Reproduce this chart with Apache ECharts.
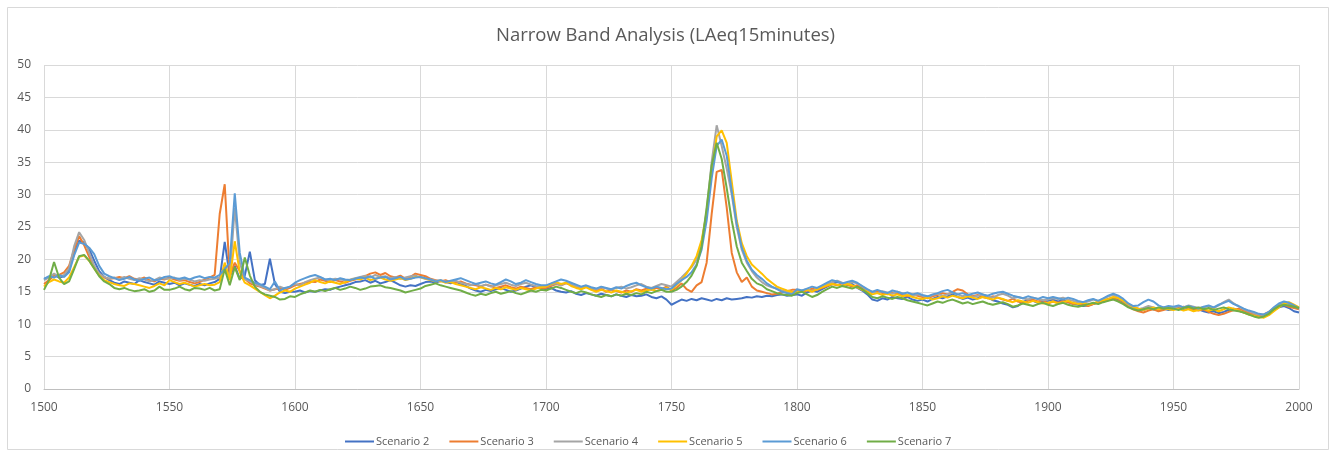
<!DOCTYPE html>
<html>
<head>
<meta charset="utf-8">
<script src="https://cdn.jsdelivr.net/npm/echarts@6/dist/echarts.min.js"></script>
<style>
  html, body { margin: 0; padding: 0; background: #ffffff; }
  #chart { width: 1331px; height: 455px; }
</style>
</head>
<body>
<div id="chart"></div>
<script>
// x runs 1500 -> 2000 in steps of 2 (251 points per series)
var xStart = 1500, xStep = 2;
var seriesNames = ["Scenario 2", "Scenario 3", "Scenario 4", "Scenario 5", "Scenario 6", "Scenario 7"];
var colors = ["#4472C4", "#ED7D31", "#A5A5A5", "#FFC000", "#5B9BD5", "#70AD47"];

var scenario2 = [
  17.0,17.3,17.6,17.2,17.4,18.3,21.0,22.9,22.6,21.6,19.8,18.2,17.3,16.8,16.4,16.2,16.6,16.4,16.2,16.8,16.5,16.3,16.1,16.6,16.4,
  16.2,16.4,16.0,16.3,16.1,15.9,16.2,16.0,16.3,16.5,17.0,22.7,17.4,19.0,17.0,17.5,21.2,16.8,16.0,16.2,20.1,16.2,15.0,14.8,15.0,
  15.0,15.2,14.9,15.1,15.0,15.2,15.4,15.3,15.6,15.8,16.0,16.2,16.5,16.6,16.8,16.4,16.7,16.3,16.5,16.8,16.4,16.0,15.8,16.0,15.9,
  16.2,16.5,16.6,16.4,16.7,16.5,16.3,16.6,16.2,15.9,15.5,15.2,15.0,15.3,15.1,15.4,15.6,15.3,15.0,15.2,15.5,15.8,16.0,15.7,15.6,
  15.4,15.6,15.2,15.0,14.9,15.1,14.7,14.5,14.8,14.6,14.4,14.7,14.5,14.3,14.6,14.4,14.2,14.5,14.3,14.4,14.6,14.2,14.0,14.3,13.8,
  13.0,13.4,13.8,13.6,13.9,13.7,14.0,13.8,13.6,13.9,13.7,14.0,13.8,13.9,14.0,14.2,14.1,14.3,14.2,14.4,14.3,14.5,14.6,14.4,14.5,
  14.6,14.4,14.9,15.2,15.0,15.4,15.8,16.2,16.5,16.3,16.0,16.2,15.6,15.2,14.6,13.8,13.6,14.0,13.8,14.2,14.0,13.9,14.2,13.8,13.6,
  13.8,13.5,13.9,14.2,14.0,14.3,14.6,14.2,13.9,14.1,13.8,14.0,14.3,14.1,13.7,13.5,13.2,13.0,12.6,12.8,13.4,13.8,13.6,13.3,13.5,
  13.6,13.8,13.5,13.7,13.4,13.2,13.0,12.8,12.9,13.1,13.4,13.6,13.9,14.1,13.8,13.4,12.9,12.6,12.4,12.2,12.5,12.3,12.1,12.4,12.2,
  12.3,12.5,12.2,12.4,12.1,12.3,12.0,11.8,12.0,11.7,11.9,12.2,12.4,12.1,11.8,11.6,11.4,11.3,11.2,11.6,12.2,12.6,12.8,12.5,12.0,
  11.8
];
var scenario3 = [
  16.2,16.8,17.5,17.6,18.0,19.0,21.5,23.6,22.2,20.4,18.8,17.6,17.2,17.0,17.1,17.3,17.1,17.4,17.0,16.9,17.2,16.8,16.6,17.0,16.9,
  17.2,16.9,16.7,16.8,16.5,16.3,16.5,16.9,17.2,17.6,27.0,31.6,17.5,19.5,18.2,17.0,16.3,16.0,15.8,15.5,15.2,15.4,15.6,15.3,15.6,
  16.0,16.2,16.4,16.6,16.5,16.9,16.7,16.5,16.8,16.6,16.4,16.7,16.9,17.2,17.4,17.8,18.0,17.6,17.9,17.4,17.2,17.5,17.0,17.3,17.8,
  17.6,17.4,17.0,16.8,16.6,16.8,16.5,16.4,16.6,16.3,16.1,16.0,15.8,16.1,15.9,15.6,15.8,16.0,15.7,15.5,15.8,15.6,15.4,15.7,15.5,
  15.6,15.9,16.2,16.0,16.3,16.1,15.7,15.5,15.8,15.4,15.2,15.5,15.0,15.3,15.1,14.9,15.2,15.0,15.4,15.2,15.5,15.3,15.6,15.4,15.8,
  15.2,15.6,16.3,15.4,15.0,16.0,16.5,19.5,27.0,33.5,33.8,28.0,21.0,18.0,16.5,17.2,15.8,15.2,15.0,14.8,14.6,14.7,14.9,15.1,15.3,
  15.3,15.0,15.2,15.5,15.3,15.6,15.9,16.2,16.0,16.3,16.1,15.8,16.0,15.6,15.2,14.9,15.1,14.8,14.6,14.9,14.7,14.5,14.3,14.6,14.4,
  14.2,14.0,14.3,14.5,14.8,14.6,15.0,15.4,15.2,14.6,14.3,14.5,14.2,14.0,14.3,14.1,13.8,13.6,13.9,13.5,13.3,13.6,13.8,13.5,13.7,
  13.2,13.5,13.3,13.6,13.4,13.1,13.3,13.0,12.8,13.1,13.3,13.5,13.7,13.9,13.6,13.2,12.8,12.3,12.0,11.8,12.1,12.3,12.0,12.2,12.4,
  12.6,12.4,12.7,12.5,12.3,12.1,12.3,11.9,11.6,11.4,11.6,11.9,12.2,12.4,12.1,11.8,11.6,11.4,11.5,11.9,12.4,12.8,13.0,12.7,12.5,
  12.3
];
var scenario4 = [
  16.8,17.2,17.8,17.3,17.6,18.6,22.0,24.2,23.0,21.0,19.0,17.8,17.3,17.0,17.2,16.9,17.3,17.0,16.8,17.1,16.9,16.6,16.8,17.2,17.0,
  17.0,17.2,16.8,17.0,16.9,16.6,16.8,16.7,16.9,17.0,17.2,19.0,17.2,28.0,19.5,17.0,16.6,16.2,15.9,15.6,15.2,15.4,15.8,15.5,15.8,
  16.2,16.0,16.5,16.8,17.0,17.2,16.9,16.8,17.0,16.9,16.8,16.9,17.1,17.3,17.5,17.2,17.6,17.3,17.4,17.1,17.3,17.0,17.2,17.4,17.5,
  17.2,17.0,16.9,16.7,16.8,16.6,16.5,16.7,16.4,16.2,16.0,16.2,15.9,16.1,15.8,16.0,16.2,16.4,16.1,15.9,16.2,16.4,16.1,15.9,15.8,
  15.9,16.1,16.3,16.0,16.4,16.2,15.9,15.7,15.9,15.6,15.4,15.7,15.5,15.3,15.6,15.8,15.5,15.7,16.0,16.2,15.8,15.6,15.9,16.2,16.0,
  15.8,16.5,17.2,18.0,18.8,20.0,22.5,27.5,35.0,40.7,37.5,34.0,30.0,25.0,21.5,19.5,18.2,17.2,16.5,16.0,15.7,15.5,15.2,15.0,14.8,
  15.0,15.2,15.4,15.1,15.5,15.8,16.2,16.5,16.7,16.4,16.2,16.5,16.3,15.8,15.3,15.0,14.8,15.1,14.9,14.7,15.0,14.8,14.5,14.3,14.6,
  14.4,14.2,14.5,14.7,14.4,14.6,14.9,14.6,14.3,14.5,14.2,14.4,14.6,14.3,14.1,14.5,14.7,14.4,14.0,14.2,14.0,13.8,14.1,13.9,13.7,
  13.8,14.0,13.9,14.1,13.8,13.6,13.4,13.3,13.5,13.8,13.6,13.9,14.3,14.5,14.1,13.6,13.0,12.6,12.3,12.5,12.8,12.6,12.4,12.6,12.7,
  12.5,12.8,12.6,12.9,12.7,12.5,12.6,12.8,12.5,12.9,13.4,13.8,13.2,12.7,12.3,12.0,11.7,11.5,11.4,11.8,12.5,13.0,13.3,13.1,12.8,
  12.5
];
var scenario5 = [
  15.8,16.5,16.9,16.6,16.4,17.2,18.8,20.4,20.6,19.8,18.6,17.5,16.8,16.5,16.2,16.0,15.9,16.3,16.2,16.0,15.8,15.6,15.9,16.3,16.0,
  16.8,16.5,16.2,16.4,16.1,15.8,16.0,16.2,16.0,16.1,16.5,19.5,16.8,22.8,18.0,16.4,16.0,15.5,15.0,14.5,14.0,14.4,14.9,15.2,15.0,
  15.5,15.8,16.1,16.4,16.8,16.5,16.3,16.6,16.4,16.2,16.5,16.8,17.0,16.9,17.2,16.8,17.0,17.2,16.9,16.7,16.9,17.1,16.8,17.0,17.3,
  17.3,17.0,16.8,16.6,16.7,16.4,16.5,16.2,16.0,15.8,15.6,15.4,15.7,15.5,15.3,15.6,15.4,15.7,15.5,15.3,15.6,15.4,15.2,15.5,15.7,
  15.8,16.2,16.5,16.2,16.4,15.9,15.6,15.4,15.7,15.3,15.0,15.3,15.1,14.9,15.2,15.0,14.8,15.1,15.3,15.0,15.2,15.4,15.1,15.3,15.6,
  15.3,16.0,16.8,17.8,19.0,20.5,23.0,27.0,33.5,39.0,39.9,38.0,32.0,26.0,22.5,20.5,19.2,18.5,17.8,17.0,16.4,15.8,15.5,15.2,15.0,
  14.9,15.1,15.3,15.0,15.4,15.7,16.0,16.2,16.1,15.9,16.2,16.0,15.7,15.3,15.0,14.6,14.8,14.5,14.7,14.4,14.6,14.3,14.5,14.2,14.0,
  13.9,14.1,13.8,14.0,14.3,14.1,14.4,14.2,14.0,14.3,14.1,13.9,14.2,14.0,13.8,14.1,13.9,13.6,13.4,13.7,13.5,13.3,13.6,13.4,13.2,
  13.3,13.5,13.2,13.4,13.6,13.3,13.1,13.3,13.0,13.2,13.5,13.7,13.9,14.2,14.0,13.6,13.1,12.7,12.4,12.2,12.4,12.6,12.3,12.5,12.3,
  12.2,12.4,12.1,12.3,12.0,12.2,12.4,12.1,12.3,12.0,12.3,12.6,12.4,12.1,11.8,11.5,11.3,11.1,11.0,11.4,12.0,12.6,13.2,13.4,13.0,
  12.6
];
var scenario6 = [
  17.0,17.4,17.2,17.6,17.3,18.0,20.6,22.6,22.4,21.8,20.8,19.0,17.8,17.4,17.1,16.8,17.0,17.3,16.9,16.7,17.0,17.2,16.8,16.9,17.3,
  17.4,17.1,17.0,17.2,16.9,17.2,17.4,17.1,17.3,17.2,17.6,18.5,19.5,30.2,21.0,17.2,16.8,16.4,16.2,15.8,15.4,16.6,15.2,15.6,15.8,
  16.4,16.8,17.1,17.4,17.6,17.3,16.9,17.0,16.8,17.1,16.9,16.8,17.0,17.2,17.1,17.4,17.0,17.2,17.3,16.9,17.1,17.3,16.9,17.0,17.2,
  17.3,17.1,16.9,16.6,16.8,16.5,16.7,16.9,17.1,16.8,16.5,16.2,16.4,16.6,16.3,16.1,16.5,16.9,16.6,16.2,16.4,16.8,16.5,16.2,16.0,
  16.0,16.3,16.6,16.9,16.7,16.4,16.1,15.8,16.0,15.7,15.5,15.8,15.6,15.4,15.7,15.5,15.9,16.2,16.4,16.0,15.7,15.5,15.8,15.6,15.4,
  15.5,16.2,16.8,17.3,18.0,19.2,21.5,26.0,32.5,37.5,38.5,36.0,30.5,25.5,21.8,19.8,18.4,17.6,17.0,16.3,15.8,15.4,15.0,14.8,14.6,
  15.4,15.2,15.5,15.8,15.6,16.0,16.4,16.8,16.6,16.3,16.5,16.7,16.4,15.9,15.4,15.0,15.3,15.0,14.8,15.2,15.0,14.7,14.9,14.6,14.8,
  14.5,14.3,14.6,14.8,15.1,15.3,14.9,14.6,14.8,14.5,14.7,14.9,14.6,14.4,14.7,14.9,15.0,14.7,14.4,14.2,14.0,14.3,14.1,13.9,14.2,
  14.0,14.2,14.0,13.8,14.1,13.9,13.6,13.4,13.7,13.9,13.6,14.0,14.4,14.7,14.4,13.9,13.2,12.8,12.9,13.4,13.8,13.5,12.9,12.6,12.8,
  12.7,12.9,12.6,12.8,12.6,12.4,12.7,12.9,12.6,13.0,13.3,13.6,13.1,12.8,12.4,12.1,11.9,11.6,11.5,11.9,12.6,13.2,13.5,13.3,12.9,
  12.4
];
var scenario7 = [
  15.3,16.8,19.6,17.2,16.2,16.6,18.5,20.5,20.7,19.8,18.6,17.4,16.6,16.2,15.6,15.4,15.6,15.3,15.1,15.2,15.4,15.0,15.2,15.8,15.3,
  15.3,15.5,15.8,15.4,15.2,15.6,15.5,15.3,15.6,15.2,15.4,18.5,16.0,18.8,16.8,20.3,17.5,15.8,15.0,14.6,14.4,14.2,13.8,13.9,14.3,
  14.2,14.6,14.9,15.2,15.0,15.3,15.1,15.4,15.6,15.3,15.5,15.8,15.6,15.3,15.5,15.8,15.9,16.0,15.7,15.6,15.4,15.2,14.9,15.1,15.3,
  15.5,15.9,16.1,16.3,16.0,15.8,15.6,15.4,15.2,14.9,14.6,14.4,14.7,14.5,14.8,15.0,14.7,14.9,15.1,14.8,14.6,14.9,15.2,15.0,15.3,
  15.2,15.5,15.8,15.6,15.3,15.0,14.8,15.1,14.9,14.6,14.4,14.2,14.5,14.3,14.6,14.4,14.7,14.5,14.8,14.6,15.0,14.8,15.1,15.3,15.0,
  15.0,15.3,15.8,16.5,17.5,19.0,22.0,28.0,34.5,38.0,35.5,31.0,26.0,22.0,19.5,18.2,17.0,16.3,16.0,15.4,15.1,14.8,14.6,14.5,14.4,
  14.8,15.0,14.6,14.2,14.5,15.0,15.4,15.8,15.6,15.9,15.7,15.5,15.8,15.4,14.8,14.2,14.0,14.3,14.1,13.9,14.2,14.0,13.7,13.5,13.3,
  13.1,12.9,13.2,13.5,13.3,13.6,13.8,13.5,13.2,13.4,13.1,13.3,13.5,13.2,13.0,13.2,13.4,13.1,12.7,12.9,13.2,13.0,12.8,13.1,13.3,
  13.0,12.8,13.1,13.3,13.0,12.8,12.7,12.9,13.1,13.3,13.1,13.4,13.6,13.8,13.5,13.1,12.6,12.3,12.1,12.3,12.5,12.3,12.6,12.4,12.5,
  12.4,12.2,12.5,12.7,12.4,12.6,12.3,12.5,12.2,12.4,12.6,12.3,12.1,12.0,11.8,11.5,11.2,11.0,11.2,11.6,12.3,12.8,13.0,12.9,12.7,
  12.5
];
var allValues = [scenario2, scenario3, scenario4, scenario5, scenario6, scenario7];

function toPairs(values) {
  var out = [];
  for (var i = 0; i < values.length; i++) {
    out.push([xStart + i * xStep, values[i]]);
  }
  return out;
}

var myChart = echarts.init(document.getElementById("chart"));

var series = [];
for (var k = 0; k < seriesNames.length; k++) {
  series.push({
    name: seriesNames[k],
    type: 'line',
    data: toPairs(allValues[k]),
    showSymbol: false,
    symbol: 'none',
    lineStyle: { width: 2, color: colors[k] },
    itemStyle: { color: colors[k] },
    animation: false
  });
}

var option = {
  backgroundColor: '#ffffff',
  textStyle: { fontFamily: 'Open Sans' },
  title: {
    text: 'Narrow Band Analysis (LAeq15minutes)',
    left: 'center',
    top: 21,
    textStyle: { color: '#595959', fontSize: 18.5, fontWeight: 'normal', fontFamily: 'Open Sans' }
  },
  graphic: [{
    type: 'rect',
    shape: { x: 7.5, y: 7.5, width: 1321, height: 442 },
    style: { fill: 'none', stroke: '#d9d9d9', lineWidth: 1 },
    silent: true
  }],
  legend: {
    data: seriesNames,
    left: 340,
    top: 431,
    icon: 'rect',
    itemWidth: 29,
    itemHeight: 2,
    itemGap: 20,
    textStyle: { color: '#595959', fontSize: 11, fontFamily: 'Open Sans', padding: [0, 0, 0, -3] }
  },
  grid: { left: 44, right: 32, top: 65, bottom: 66 },
  xAxis: {
    type: 'value',
    min: 1500,
    max: 2000,
    interval: 50,
    axisLine: { show: true, lineStyle: { color: '#bfbfbf', width: 1 } },
    axisTick: { show: false },
    axisLabel: { color: '#595959', fontSize: 12, margin: 13, formatter: function (v) { return String(v); } },
    splitLine: { show: true, lineStyle: { color: '#d9d9d9', width: 1 } }
  },
  yAxis: {
    type: 'value',
    min: 0,
    max: 50,
    interval: 5,
    axisLine: { show: false },
    axisTick: { show: false },
    axisLabel: { color: '#595959', fontSize: 12, margin: 13 },
    splitLine: { show: true, lineStyle: { color: '#d9d9d9', width: 1 } }
  },
  series: series
};

myChart.setOption(option);
</script>
</body>
</html>
